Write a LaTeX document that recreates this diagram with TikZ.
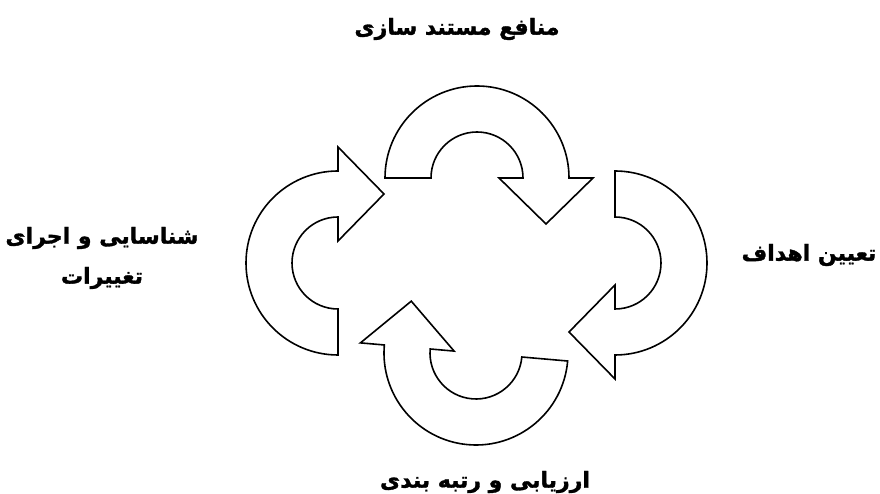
\documentclass[tikz,border=0pt]{standalone}
\usepackage{fontspec}
\newfontfamily\arabicfont[Script=Arabic, BoldFeatures={FakeBold=1.5}]{DejaVu Sans}
\TeXXeTstate=1
\newcommand\cycarrow{\draw[cyc] (-92,0) arc[start angle=180,end angle=0,radius=92] -- (116,0) -- (69,-46) -- (22,0) -- (46,0) arc[start angle=0,end angle=180,radius=46] -- cycle;}
\begin{document}
\begin{tikzpicture}[x=1pt,y=1pt,
  cyc/.style={draw=black, fill=white, line width=1.6pt, line join=miter},
  lbl/.style={font=\arabicfont\bfseries\fontsize{22}{40}\selectfont, align=center, inner sep=0pt}]
\useasboundingbox (0,0) rectangle (880,494);
\begin{scope}[shift={(477,316)}] \cycarrow \end{scope}
\begin{scope}[shift={(615,231)},rotate=-90] \cycarrow \end{scope}
\begin{scope}[shift={(476,141)},rotate=-185] \cycarrow \end{scope}
\begin{scope}[shift={(338,231)},rotate=90] \cycarrow \end{scope}
\node[lbl] (top) at (457,465) {\beginR منافع مستند سازی\endR};
\node[lbl] (right) at (809,239) {\beginR تعیین اهداف\endR};
\node[lbl] (left) at (102,236) {\beginR شناسایی و اجرای\endR\\\beginR تغییرات\endR};
\node[lbl] (bottom) at (485,12) {\beginR ارزیابی و رتبه بندی\endR};
\end{tikzpicture}
\end{document}
